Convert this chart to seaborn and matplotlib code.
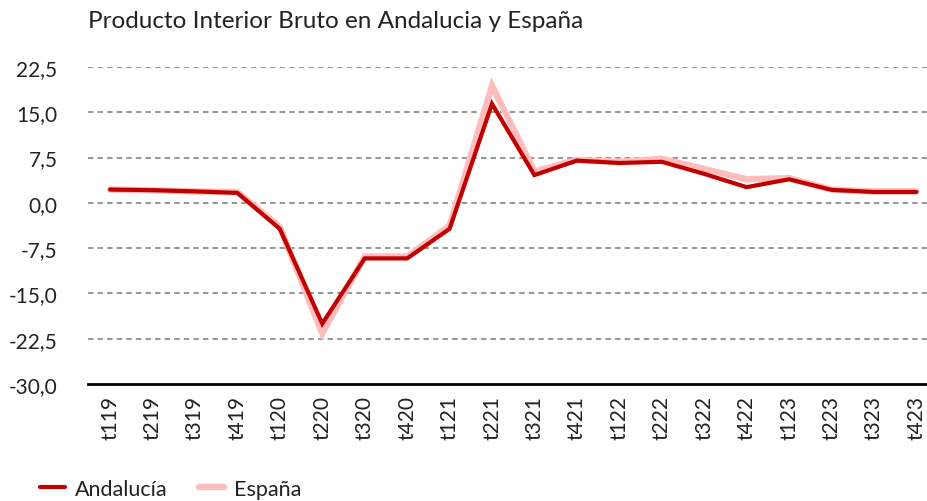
"""PIB trimestral: Andalucía vs España (tasa de variación interanual)."""

import pandas as pd
import matplotlib.pyplot as plt
import seaborn as sns
from matplotlib.ticker import FuncFormatter

periods = ["t119", "t219", "t319", "t419", "t120", "t220", "t320", "t420",
           "t121", "t221", "t321", "t421", "t122", "t222", "t322", "t422",
           "t123", "t223", "t323", "t423"]
andalucia = [2.2, 2.1, 1.9, 1.65, -4.3, -20.0, -9.2, -9.2,
             -4.3, 16.4, 4.6, 7.0, 6.6, 6.8, 4.8, 2.6,
             3.9, 2.15, 1.8, 1.8]
espana = [2.2, 2.1, 1.9, 1.8, -4.0, -21.6, -8.9, -8.9,
          -3.8, 19.4, 5.2, 7.1, 6.8, 7.3, 5.6, 3.9,
          4.1, 2.2, 1.9, 1.9]
yticks = [-30, -22.5, -15, -7.5, 0, 7.5, 15, 22.5]

colors = {"Andalucía": "#C00000", "España": "#FFBCBC"}
widths = {"Andalucía": 3.0, "España": 4.6}

df = pd.DataFrame({
    "periodo": periods * 2,
    "x": list(range(len(periods))) * 2,
    "valor": andalucia + espana,
    "serie": ["Andalucía"] * len(periods) + ["España"] * len(periods),
})

sns.set_theme(style="white")
plt.rcParams["font.family"] = ["Lato", "DejaVu Sans"]

fig = plt.figure(figsize=(9.27, 5.02), dpi=100)
ax = fig.add_axes([88 / 927, 1 - 385 / 502, 839 / 927, (385 - 68) / 502])

# España underneath, Andalucía on top
for name in ["España", "Andalucía"]:
    sns.lineplot(data=df[df["serie"] == name], x="x", y="valor", ax=ax,
                 color=colors[name], linewidth=widths[name], label=name,
                 solid_joinstyle="miter", zorder=3 if name == "Andalucía" else 2)

ax.set_ylim(-30, 22.5)
ax.set_xlim(-0.52, 19.25)
ax.set_yticks(yticks)
ax.yaxis.set_major_formatter(FuncFormatter(lambda v, _: f"{v:.1f}".replace(".", ",")))
ax.set_xticks(range(len(periods)))
ax.set_xticklabels(periods, rotation=90)
ax.tick_params(axis="y", length=0, pad=22, labelsize=15, labelcolor="#222222")
ax.tick_params(axis="x", length=0, pad=8, labelsize=15, labelcolor="#222222")

for v in yticks[1:]:
    ax.axhline(v, color="#999999", linewidth=1.5, dashes=(2.6, 2.0), zorder=1)

for side in ["top", "right", "left"]:
    ax.spines[side].set_visible(False)
ax.spines["bottom"].set_color("black")
ax.spines["bottom"].set_linewidth(2)
ax.set_xlabel("")
ax.set_ylabel("")

fig.text(88 / 927, 1 - 22 / 502, "Producto Interior Bruto en Andalucia y España",
         fontsize=17.5, color="#222222", va="center", ha="left")

handles, labels = ax.get_legend_handles_labels()
order = [labels.index("Andalucía"), labels.index("España")]
ax.legend_.remove()
fig.legend([handles[i] for i in order], [labels[i] for i in order],
           loc="center left", bbox_to_anchor=(21 / 927, 1 - 490 / 502),
           ncol=2, frameon=False, fontsize=15.5, handlelength=1.15,
           columnspacing=1.45, handletextpad=0.47, labelcolor="#222222")

plt.savefig("out.png", dpi=100)
plt.close()
